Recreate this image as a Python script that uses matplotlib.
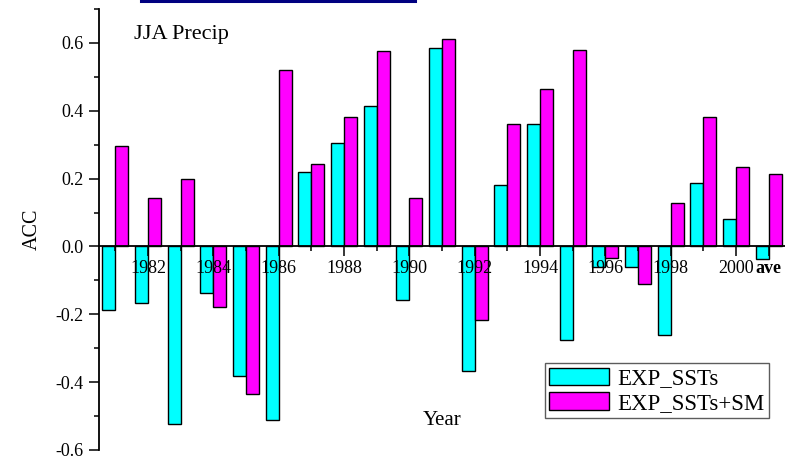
import matplotlib
matplotlib.use("Agg")
import matplotlib.pyplot as plt
import numpy as np
from matplotlib.lines import Line2D

years = list(range(1981, 2001))
categories = [str(y) for y in years] + ["ave"]
exp_ssts = [-0.187, -0.167, -0.524, -0.136, -0.383, -0.511, 0.219, 0.304, 0.413, -0.159,
            0.585, -0.368, 0.182, 0.360, -0.277, -0.062, -0.060, -0.260, 0.186, 0.082,
            -0.038]
exp_ssts_sm = [0.296, 0.142, 0.198, -0.178, -0.436, 0.521, 0.243, 0.383, 0.575, 0.144,
               0.612, -0.216, 0.360, 0.464, 0.579, -0.035, -0.112, 0.129, 0.381, 0.235,
               0.213]
major_labels = ["1982", "1984", "1986", "1988", "1990", "1992", "1994", "1996", "1998",
                "2000", "ave"]

plt.rcParams['font.family'] = ['Liberation Serif', 'DejaVu Serif']

fig = plt.figure(figsize=(7.85, 4.59), dpi=100)
ax = fig.add_axes([99 / 785, 9 / 459, 686 / 785, 441 / 459])

x = np.arange(1981, 1981 + len(categories))
w = 0.4
ax.bar(x - w, exp_ssts, width=w, align='edge', color='#00FFFF', edgecolor='black',
       linewidth=1, label='EXP_SSTs', zorder=2)
ax.bar(x, exp_ssts_sm, width=w, align='edge', color='#FF00FF', edgecolor='black',
       linewidth=1, label='EXP_SSTs+SM', zorder=2)

ax.set_xlim(1980.5, 2001.5)
ax.set_ylim(-0.6, 0.7)
# axis (ticks + labels) on top of the bars
ax.set_axisbelow(False)

for s in ['top', 'right']:
    ax.spines[s].set_visible(False)
ax.spines['bottom'].set_position(('data', 0))
ax.spines['bottom'].set_linewidth(1.3)
ax.spines['left'].set_linewidth(1.3)

major_pos = [1982, 1984, 1986, 1988, 1990, 1992, 1994, 1996, 1998, 2000, 2001]
ax.set_xticks(major_pos)
ax.set_xticklabels(major_labels)
ax.set_xticks(np.arange(1981, 2000, 2), minor=True)
ax.get_xticklabels()[-1].set_fontweight('bold')

ax.set_yticks(np.arange(-0.6, 0.61, 0.2))
ax.set_yticklabels(['%.1f' % v for v in np.arange(-0.6, 0.61, 0.2)])
ax.set_yticks(np.arange(-0.5, 0.71, 0.2), minor=True)

ax.tick_params(axis='both', which='major', direction='out', length=7.5, width=1.1,
               labelsize=13, color='black')
ax.tick_params(axis='both', which='minor', direction='out', length=3.8, width=1.1,
               color='black')
ax.tick_params(axis='x', which='major', pad=2.5)

ax.set_ylabel('ACC', fontsize=14.5, labelpad=10)
ax.set_xlabel('Year', fontsize=15)
ax.xaxis.set_label_coords(0.5, 0.088)

ax.text(134 / 785, 1 - 35 / 459, 'JJA Precip', fontsize=16, transform=fig.transFigure,
        va='center', ha='left')

leg = ax.legend(loc='upper left', bbox_to_anchor=(0.650, 0.197), borderaxespad=0,
                fontsize=16.5, frameon=True, fancybox=False, handlelength=2.6,
                handleheight=0.8, handletextpad=0.35, borderpad=0.2, labelspacing=0.12)
leg.get_frame().set_edgecolor('#333333')
leg.get_frame().set_linewidth(1.0)

fig.add_artist(Line2D([141 / 785, 415 / 785], [1 - 1 / 459, 1 - 1 / 459],
                      color='#000080', lw=2.2))

fig.savefig('out.png', dpi=100)
